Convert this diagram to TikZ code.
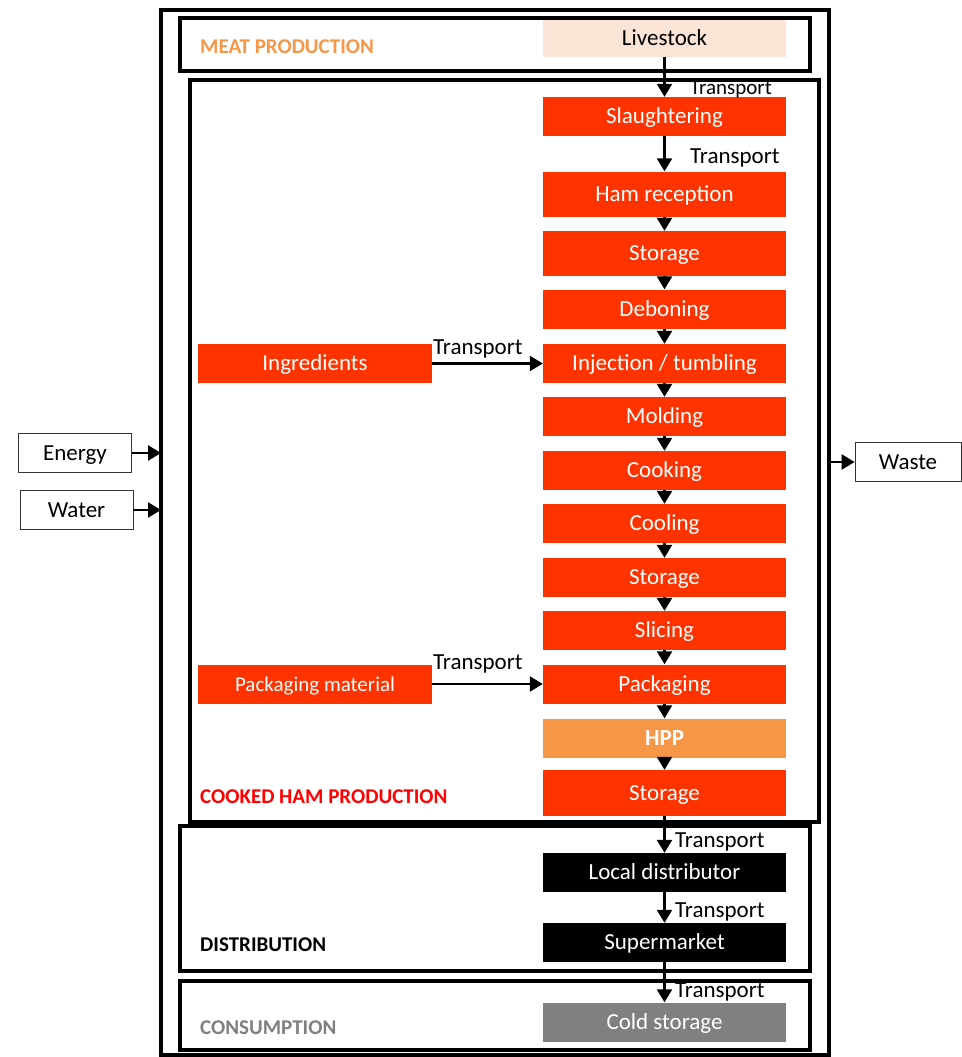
\documentclass[tikz,border=0pt]{standalone}
\usepackage{fontspec}
\setmainfont{Carlito}
\usetikzlibrary{arrows.meta}
\definecolor{hamred}{HTML}{FF3300}
\definecolor{hppor}{HTML}{F79646}
\definecolor{livepeach}{HTML}{FCE4D6}
\definecolor{consgray}{HTML}{808080}
\tikzset{
  stepbox/.style={minimum width=243pt, minimum height=39pt, inner sep=0pt,
    text height=17pt, text depth=3pt, text=white, font=\fontsize{23}{26}\selectfont},
  redbox/.style={stepbox, fill=hamred},
  flowbox/.style={draw=black!80, line width=0.8pt, minimum height=39pt, inner sep=0pt,
    text height=17pt, text depth=3pt, font=\fontsize{23}{26}\selectfont},
  stagebox/.style={draw, line width=3.6pt},
  stagelabel/.style={anchor=west, inner sep=0pt, font=\fontsize{21}{24}\selectfont\bfseries},
  translabel/.style={anchor=west, inner sep=0pt, font=\fontsize{23}{26}\selectfont},
  flow/.style={line width=2.4pt, -{Triangle[length=13pt,width=15pt]}},
}
\begin{document}
\begin{tikzpicture}[x=1pt,y=-1pt]
   \useasboundingbox (0,0) rectangle (961,1057);
   % stages
   \draw[stagebox] (161,10) rectangle (829,1055);
   \draw[stagebox] (180,18) rectangle (810,71);
   \draw[stagebox] (190,80) rectangle (819,822);
   \draw[stagebox] (180,826) rectangle (810,971);
   \draw[stagebox] (180,981) rectangle (810,1050);
   \node[stagelabel, text=hppor]    (meatlbl)  at (200,47)   {MEAT PRODUCTION};
   \node[stagelabel, text=red]      (hamlbl)   at (200,797)  {COOKED HAM PRODUCTION};
   \node[stagelabel]                (distlbl)  at (200,945)  {DISTRIBUTION};
   \node[stagelabel, text=consgray] (conslbl)  at (200,1028) {CONSUMPTION};
   % process chain
   \node[stepbox, fill=livepeach, text=black, minimum height=37pt] (livestock) at (664.5,38.5) {Livestock};
   \node[redbox] (slaughter) at (664.5,116.5) {Slaughtering};
   \node[redbox, minimum height=45pt] (hamrec) at (664.5,194) {Ham reception};
   \node[redbox, minimum height=45pt] (storeA) at (664.5,253.5) {Storage};
   \node[redbox] (debone)  at (664.5,309)   {Deboning};
   \node[redbox] (inject)  at (664.5,363.5) {Injection / tumbling};
   \node[redbox] (mold)    at (664.5,416.5) {Molding};
   \node[redbox] (cook)    at (664.5,470.5) {Cooking};
   \node[redbox] (cool)    at (664.5,523.5) {Cooling};
   \node[redbox] (storeB)  at (664.5,577.5) {Storage};
   \node[redbox] (slice)   at (664.5,630.5) {Slicing};
   \node[redbox] (pack)    at (664.5,684)   {Packaging};
   \node[stepbox, fill=hppor, font=\fontsize{23}{26}\selectfont\bfseries] (hpp) at (664.5,738) {HPP};
   \node[redbox, minimum height=46pt] (storeC) at (664.5,793) {Storage};
   \node[stepbox, fill=black] (localdist) at (664.5,872.5)  {Local distributor};
   \node[stepbox, fill=black] (market)    at (664.5,942.5)  {Supermarket};
   \node[stepbox, fill=consgray] (cold)   at (664.5,1022)   {Cold storage};
   % inputs
   \node[redbox, minimum width=234pt] (ingred) at (315,363.5) {Ingredients};
   \node[redbox, minimum width=234pt, font=\fontsize{21}{24}\selectfont] (packmat) at (315,684) {Packaging material};
   \node[flowbox, minimum width=113pt] (energy) at (75,453)   {Energy};
   \node[flowbox, minimum width=113pt] (water)  at (76.5,510) {Water};
   \node[flowbox, minimum width=106pt] (waste)  at (908,462)  {Waste};
   \coordinate (energyin) at (161,453);
   \coordinate (waterin)  at (161,510);
   \coordinate (wasteout) at (829,462);
   % transport labels
   \node[translabel, font=\fontsize{21}{24}\selectfont] (tA) at (690,89) {Transport};
   \node[translabel] (tB) at (690,158) {Transport};
   \node[translabel] (tC) at (433,349) {Transport};
   \node[translabel] (tD) at (433,664) {Transport};
   \node[translabel] (tE) at (675,842) {Transport};
   \node[translabel] (tF) at (675,912) {Transport};
   \node[translabel] (tG) at (675,992) {Transport};
   % connectors
   \draw[flow] (livestock) -- (slaughter);
   \draw[flow] (slaughter) -- (hamrec);
   \draw[flow] (hamrec) -- (storeA);
   \draw[flow] (storeA) -- (debone);
   \draw[flow] (debone) -- (inject);
   \draw[flow] (inject) -- (mold);
   \draw[flow] (mold) -- (cook);
   \draw[flow] (cook) -- (cool);
   \draw[flow] (cool) -- (storeB);
   \draw[flow] (storeB) -- (slice);
   \draw[flow] (slice) -- (pack);
   \draw[flow] (pack) -- (hpp);
   \draw[flow] (hpp) -- (storeC);
   \draw[flow] (storeC) -- (localdist);
   \draw[flow] (localdist) -- (market);
   \draw[flow] (market) -- (cold);
   \draw[flow] (ingred) -- (inject);
   \draw[flow] (packmat) -- (pack);
   \draw[flow] (energy) -- (energyin);
   \draw[flow] (water) -- (waterin);
   \draw[flow] (wasteout) -- (waste);
\end{tikzpicture}
\end{document}
